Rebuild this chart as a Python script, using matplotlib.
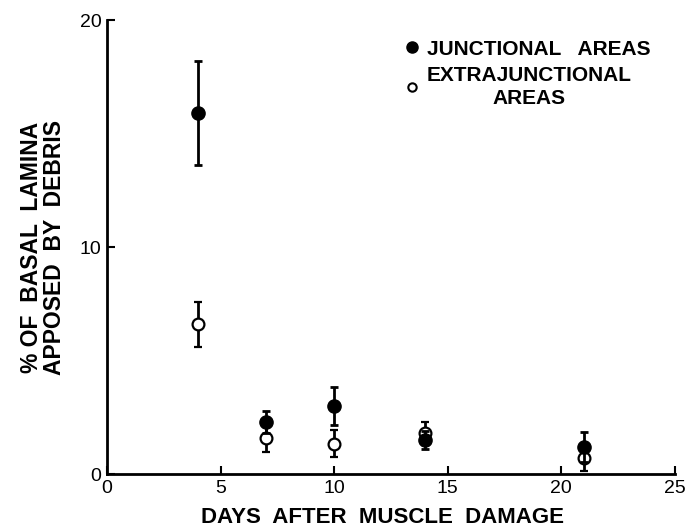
import matplotlib
matplotlib.use("Agg")
from matplotlib import pyplot as plt
from matplotlib.lines import Line2D

plt.rcParams['font.family'] = ['Liberation Sans', 'DejaVu Sans']

# days after damage
days = [4, 7, 10, 14, 21]

# junctional areas (filled)
junc = [15.9, 2.3, 3.0, 1.5, 1.2]
junc_err = [2.3, 0.5, 0.85, 0.4, 0.65]

# extrajunctional areas (open)
extra = [6.6, 1.6, 1.35, 1.8, 0.7]
extra_err = [1.0, 0.6, 0.6, 0.5, 0.55]

x_ticks = [0, 5, 10, 15, 20, 25]
y_ticks = [0, 10, 20]

fig = plt.figure(figsize=(6.9, 5.27), dpi=100)
ax = fig.add_axes([0.155, 0.1, 0.823, 0.862])

ax.errorbar(days, extra, yerr=extra_err, fmt='o', mfc='white', mec='black',
            mew=1.6, ms=8.5, ecolor='black', elinewidth=2, capsize=3, capthick=2, zorder=3)
ax.errorbar(days, junc, yerr=junc_err, fmt='o', mfc='black', mec='black',
            ms=9.5, ecolor='black', elinewidth=2, capsize=3, capthick=2, zorder=4)

ax.set_xlim(0, 25)
ax.set_ylim(0, 20)
ax.set_xticks(x_ticks)
ax.set_yticks(y_ticks)
ax.tick_params(direction='in', length=6, width=1.5, labelsize=14, pad=4)
for s in ['top', 'right']:
    ax.spines[s].set_visible(False)
for s in ['left', 'bottom']:
    ax.spines[s].set_linewidth(2)

ax.set_xlabel("DAYS  AFTER  MUSCLE  DAMAGE", fontsize=16, fontweight='bold', labelpad=7)
ax.xaxis.label.set_x(0.485)
ax.set_ylabel("% OF  BASAL  LAMINA\nAPPOSED  BY  DEBRIS", fontsize=16.5, fontweight='bold',
              labelpad=10, multialignment='center', linespacing=1.0)

handles = [Line2D([], [], ls='none', marker='o', mfc='black', mec='black', ms=8),
           Line2D([], [], ls='none', marker='o', mfc='white', mec='black', mew=1.5, ms=6)]
leg = ax.legend(handles, ["JUNCTIONAL   AREAS", "EXTRAJUNCTIONAL\nAREAS"],
                loc='upper right', bbox_to_anchor=(0.99, 0.998), frameon=False,
                prop={'size': 15, 'weight': 'bold'}, handletextpad=0.3,
                handlelength=0.8, labelspacing=0.35)
for t in leg.get_texts():
    t.set_multialignment('center')
    t.set_linespacing(1.25)

fig.savefig("out.png", dpi=100)
